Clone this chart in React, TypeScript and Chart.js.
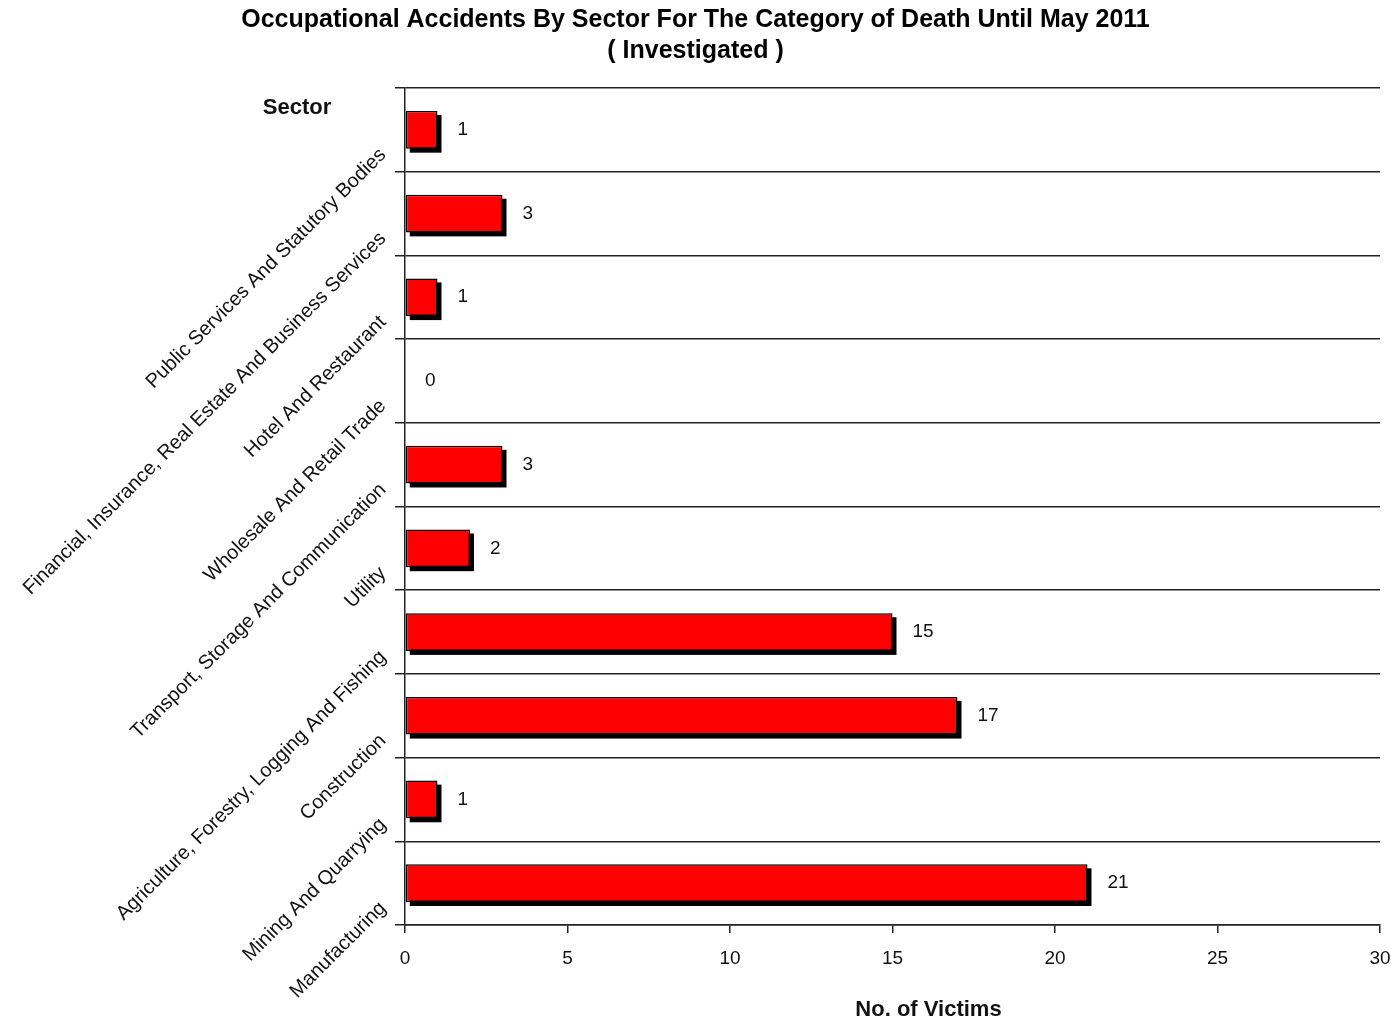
import React, { useEffect, useRef } from "react";
import { Chart, registerables } from "chart.js";

Chart.register(...registerables);

const sectors: string[] = [
  "Public Services And Statutory Bodies",
  "Financial, Insurance, Real Estate And Business Services",
  "Hotel And Restaurant",
  "Wholesale And Retail Trade",
  "Transport, Storage And Communication",
  "Utility",
  "Agriculture, Forestry, Logging And Fishing",
  "Construction",
  "Mining And Quarrying",
  "Manufacturing",
];

const victims: number[] = [1, 3, 1, 0, 3, 2, 15, 17, 1, 21];

const xTicks: number[] = [0, 5, 10, 15, 20, 25, 30];

const titleLines: string[] = [
  "Occupational Accidents By Sector For The Category of Death Until May 2011",
  "( Investigated )",
];
const xTitle = "No. of Victims";
const yTitle = "Sector";

const FONT = "'Liberation Sans', Arial, sans-serif";

export default function App() {
  const canvasRef = useRef<HTMLCanvasElement | null>(null);

  useEffect(() => {
    const canvas = canvasRef.current;
    if (!canvas) return;

    const extras = {
      id: "extras",
      beforeDatasetsDraw(chart: any) {
        // drop shadow behind each bar, from the bar elements' own geometry
        const ctx = chart.ctx;
        const meta = chart.getDatasetMeta(0);
        ctx.save();
        ctx.fillStyle = "#000000";
        meta.data.forEach((bar: any) => {
          const p = bar.getProps(["x", "y", "base", "height"], true);
          const left = Math.min(p.x, p.base);
          const w = Math.abs(p.x - p.base);
          if (w <= 0) return;
          ctx.fillRect(left + 4, p.y - p.height / 2 + 4, w, p.height);
        });
        ctx.restore();
      },
      afterDatasetsDraw(chart: any) {
        const ctx = chart.ctx;
        const meta = chart.getDatasetMeta(0);
        ctx.save();
        ctx.fillStyle = "#111";
        ctx.font = `19px ${FONT}`;
        ctx.textAlign = "left";
        ctx.textBaseline = "middle";
        meta.data.forEach((bar: any, i: number) => {
          ctx.fillText(String(victims[i]), bar.x + 20, bar.y);
        });
        ctx.restore();
      },
      afterDraw(chart: any) {
        const ctx = chart.ctx;
        const area = chart.chartArea;
        ctx.save();
        ctx.fillStyle = "#111";
        ctx.font = `bold 22px ${FONT}`;
        ctx.textAlign = "center";
        ctx.textBaseline = "middle";
        ctx.fillText(yTitle, area.left - 108, area.top + 20);
        ctx.fillText(xTitle, (area.left + area.right) / 2 + 36, 1010);
        ctx.restore();
      },
    };

    const chart = new Chart(canvas, {
      type: "bar",
      data: {
        labels: sectors,
        datasets: [
          {
            data: victims,
            backgroundColor: "#ff0000",
            borderColor: "#000000",
            borderWidth: 1.5,
            borderSkipped: false,
            barPercentage: 0.45,
            categoryPercentage: 1,
          },
        ],
      },
      options: {
        indexAxis: "y",
        animation: false,
        responsive: true,
        maintainAspectRatio: false,
        layout: { padding: { left: 0, right: 0, top: 0, bottom: 0 } },
        plugins: {
          legend: { display: false },
          tooltip: { enabled: false },
          title: {
            display: true,
            text: titleLines,
            color: "#000",
            font: { family: FONT, size: 25, weight: "bold", lineHeight: 1.25 },
            padding: { top: 4, bottom: 21.5 },
          },
        },
        scales: {
          x: {
            type: "linear",
            min: 0,
            max: 30,
            afterBuildTicks(scale: any) {
              scale.ticks = xTicks.map((v) => ({ value: v }));
            },
            afterFit(scale: any) {
              scale.height = 99;
              scale.paddingLeft = 0;
              scale.paddingRight = 11;
            },
            grid: {
              display: true,
              drawOnChartArea: false,
              drawTicks: true,
              tickLength: 8,
              color: "#222",
              lineWidth: 1.5,
            },
            border: { display: true, color: "#222", width: 1.5 },
            ticks: {
              color: "#111",
              font: { family: FONT, size: 19 },
              padding: 14,
            },
          },
          y: {
            type: "category",
            afterFit(scale: any) {
              scale.width = 405;
            },
            grid: {
              display: true,
              offset: true,
              drawOnChartArea: true,
              drawTicks: true,
              tickLength: 10,
              color: "#222",
              lineWidth: 1.5,
            },
            border: { display: true, color: "#222", width: 1.5 },
            ticks: {
              color: "#111",
              font: { family: FONT, size: 20 },
              minRotation: 45,
              maxRotation: 45,
              autoSkip: false,
              padding: 12,
              labelOffset: 22,
            },
          },
        },
      },
      plugins: [extras],
    } as any);

    return () => {
      chart.destroy();
    };
  }, []);

  return (
    <div
      style={{
        position: "fixed",
        left: 0,
        top: 0,
        width: 1391,
        height: 1024,
        background: "#ffffff",
      }}
    >
      <canvas ref={canvasRef} />
    </div>
  );
}
